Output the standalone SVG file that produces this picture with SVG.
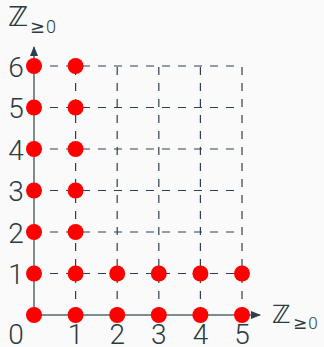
<svg xmlns="http://www.w3.org/2000/svg" width="324" height="347" viewBox="0 0 324 347">
<style>
.bg{fill:#fafafa}
.grid{stroke:#2c3e50;stroke-width:1.2;stroke-dasharray:8 8;fill:none}
.axis{stroke:#7f8c8d;stroke-width:2;fill:none}
.dot{fill:#ff0000}
.lbl{font-family:Roboto,"Liberation Sans",sans-serif;font-weight:300;font-size:28px;fill:#2d3a40;text-anchor:middle}
.zz{font-family:"DejaVu Sans",sans-serif;fill:#2d3a40}
.sub{font-family:Roboto,"DejaVu Sans",sans-serif;font-weight:300;fill:#2d3a40}
.ge{font-family:"DejaVu Sans",sans-serif;font-weight:normal}
</style>
<defs>
<marker id="ah" markerWidth="10" markerHeight="8" refX="9" refY="4" orient="auto" markerUnits="userSpaceOnUse">
<path d="M0,0 L10,4 L0,8 Z" fill="#2c3e50"/>
</marker>
</defs>
<rect class="bg" x="0" y="0" width="324" height="347"/>
<g id="connectors">
<g id="grid">
<path class="grid" d="M34,66H242M34,107.5H242M34,149H242M34,190.5H242M34,232H242M34,273.5H242"/>
<path class="grid" d="M75.6,315V66M117.2,315V66M158.8,315V66M200.4,315V66M242,315V66"/>
</g>
<path id="yaxis" class="axis" d="M34,315V47" marker-end="url(#ah)"/>
<path id="xaxis" class="axis" d="M34,315H260" marker-end="url(#ah)"/>
</g>
<g id="dots">
<circle class="dot" cx="34" cy="315" r="8"/>
<circle class="dot" cx="34" cy="273.5" r="8"/>
<circle class="dot" cx="34" cy="232" r="8"/>
<circle class="dot" cx="34" cy="190.5" r="8"/>
<circle class="dot" cx="34" cy="149" r="8"/>
<circle class="dot" cx="34" cy="107.5" r="8"/>
<circle class="dot" cx="34" cy="66" r="8"/>
<circle class="dot" cx="75.6" cy="315" r="8"/>
<circle class="dot" cx="75.6" cy="273.5" r="8"/>
<circle class="dot" cx="75.6" cy="232" r="8"/>
<circle class="dot" cx="75.6" cy="190.5" r="8"/>
<circle class="dot" cx="75.6" cy="149" r="8"/>
<circle class="dot" cx="75.6" cy="107.5" r="8"/>
<circle class="dot" cx="75.6" cy="66" r="8"/>
<circle class="dot" cx="117.2" cy="315" r="8"/>
<circle class="dot" cx="117.2" cy="273.5" r="8"/>
<circle class="dot" cx="158.8" cy="315" r="8"/>
<circle class="dot" cx="158.8" cy="273.5" r="8"/>
<circle class="dot" cx="200.4" cy="315" r="8"/>
<circle class="dot" cx="200.4" cy="273.5" r="8"/>
<circle class="dot" cx="242" cy="315" r="8"/>
<circle class="dot" cx="242" cy="273.5" r="8"/>
</g>
<g id="ylabels">
<text class="lbl" x="16" y="284">1</text>
<text class="lbl" x="16" y="242.5">2</text>
<text class="lbl" x="16" y="201">3</text>
<text class="lbl" x="16" y="159.5">4</text>
<text class="lbl" x="16" y="118">5</text>
<text class="lbl" x="16" y="76.5">6</text>
</g>
<g id="xlabels">
<text class="lbl" x="16" y="343.5">0</text>
<text class="lbl" x="75.6" y="343.5">1</text>
<text class="lbl" x="117.2" y="343.5">2</text>
<text class="lbl" x="158.8" y="343.5">3</text>
<text class="lbl" x="200.4" y="343.5">4</text>
<text class="lbl" x="242" y="343.5">5</text>
</g>
<g id="ylabel-title">
<text x="8" y="26" class="zz" font-size="27">ℤ</text>
<text x="30" y="33" class="sub" font-size="18"><tspan class="ge">≥</tspan><tspan dx="1">0</tspan></text>
</g>
<g id="xlabel-title">
<text x="272" y="323" class="zz" font-size="25">ℤ</text>
<text x="293" y="329" class="sub" font-size="17"><tspan class="ge">≥</tspan><tspan dx="1">0</tspan></text>
</g>
</svg>
